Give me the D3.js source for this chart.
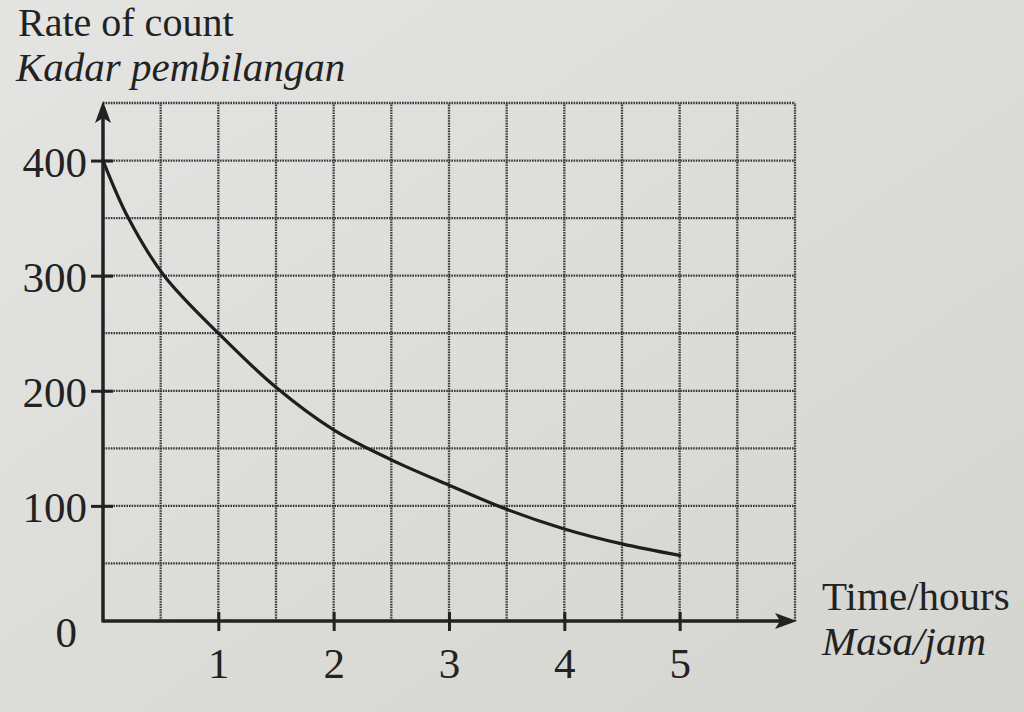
<!DOCTYPE html>
<html>
<head>
<meta charset="utf-8">
<script src="https://cdn.jsdelivr.net/npm/d3@7"></script>
<style>
  html, body { margin: 0; padding: 0; background: #dcdcd9; }
  svg { display: block; }
  text { font-family: "Liberation Serif", "DejaVu Serif", serif; fill: #222; }
</style>
</head>
<body>
<svg id="chart" width="1024" height="712"></svg>
<script>
// time in hours and the count rate
const hours = [0, 0.22, 0.53, 1, 1.5, 2, 2.5, 3, 3.5, 4, 4.5, 5];
const rates = [400, 350, 300, 250, 203, 166, 140, 118, 97, 80, 67, 57];

const xTicks = [1, 2, 3, 4, 5];
const yTicks = [100, 200, 300, 400];

const svg = d3.select("#chart");
const W = 1024, H = 712;

// paper background, slightly brighter at the top left
const defs = svg.append("defs");
const grad = defs.append("linearGradient")
  .attr("id", "paper")
  .attr("x1", "0").attr("y1", "0")
  .attr("x2", "1").attr("y2", "1");
grad.append("stop").attr("offset", "0%").attr("stop-color", "#e4e4e2");
grad.append("stop").attr("offset", "100%").attr("stop-color", "#d4d4d0");
svg.append("rect").attr("width", W).attr("height", H).attr("fill", "url(#paper)");

const x = d3.scaleLinear().domain([0, 6]).range([103, 795]);
const y = d3.scaleLinear().domain([0, 450]).range([621, 103]);

// grid, every half hour and every 50 counts
const grid = svg.append("g")
  .attr("stroke", "#383838")
  .attr("stroke-width", 2.3)
  .attr("stroke-dasharray", "1.6 1");

grid.selectAll(".gx")
  .data(d3.range(0.5, 6.01, 0.5))
  .join("line")
  .attr("x1", d => x(d)).attr("x2", d => x(d))
  .attr("y1", y(0)).attr("y2", y(450));

grid.selectAll(".gy")
  .data(d3.range(50, 450.1, 50))
  .join("line")
  .attr("x1", x(0)).attr("x2", x(6))
  .attr("y1", d => y(d)).attr("y2", d => y(d));

// axes
const xAxis = svg.append("g")
  .attr("transform", `translate(0,${y(0)})`)
  .call(d3.axisBottom(x).tickValues(xTicks).tickSize(10).tickPadding(16).tickFormat(d3.format("d")));

const yAxis = svg.append("g")
  .attr("transform", `translate(${x(0)},0)`)
  .call(d3.axisLeft(y).tickValues(yTicks).tickSize(12).tickPadding(4).tickFormat(d3.format("d")));

[xAxis, yAxis].forEach(g => {
  g.select(".domain").remove();
  g.selectAll(".tick line").attr("stroke", "#222").attr("stroke-width", 3);
  g.selectAll(".tick text")
    .attr("font-size", 43)
    .attr("font-family", "Liberation Serif, serif")
    .attr("fill", "#222");
});
// ticks cross the axis lines
xAxis.selectAll(".tick line").attr("y1", -9);
yAxis.selectAll(".tick line").attr("x1", 10);
yAxis.selectAll(".tick text").attr("dy", "0.36em");

// axis lines with arrow heads
const axisLines = svg.append("g").attr("stroke", "#222").attr("fill", "#222");
axisLines.append("line")
  .attr("x1", x(0)).attr("x2", x(6) - 12)
  .attr("y1", y(0)).attr("y2", y(0))
  .attr("stroke-width", 3.5);
axisLines.append("line")
  .attr("x1", x(0)).attr("x2", x(0))
  .attr("y1", y(0) + 1.5).attr("y2", y(450) + 12)
  .attr("stroke-width", 3.5);
axisLines.append("path")
  .attr("stroke", "none")
  .attr("d", `M${x(6) + 2},${y(0)} L${x(6) - 20},${y(0) - 8} L${x(6) - 15},${y(0)} L${x(6) - 20},${y(0) + 8} Z`);
axisLines.append("path")
  .attr("stroke", "none")
  .attr("d", `M${x(0)},${y(450) - 2} L${x(0) - 8},${y(450) + 20} L${x(0)},${y(450) + 15} L${x(0) + 8},${y(450) + 20} Z`);

// origin label
svg.append("text")
  .attr("x", x(0) - 26).attr("y", y(0) + 26)
  .attr("text-anchor", "end")
  .attr("font-size", 43)
  .text("0");

// decay curve
const points = hours.map((h, i) => [h, rates[i]]);
svg.append("path")
  .datum(points)
  .attr("fill", "none")
  .attr("stroke", "#1e1e1e")
  .attr("stroke-width", 3.2)
  .attr("stroke-linecap", "round")
  .attr("d", d3.line().x(d => x(d[0])).y(d => y(d[1])).curve(d3.curveCatmullRom.alpha(0.5)));

// axis titles
svg.append("text").attr("x", 18).attr("y", 36).attr("font-size", 40).text("Rate of count");
svg.append("text").attr("x", 16).attr("y", 81).attr("font-size", 41)
  .attr("font-style", "italic").text("Kadar pembilangan");

svg.append("text").attr("x", 822).attr("y", 610).attr("font-size", 41).text("Time/hours");
svg.append("text").attr("x", 822).attr("y", 655).attr("font-size", 41)
  .attr("font-style", "italic").text("Masa/jam");
</script>
</body>
</html>
